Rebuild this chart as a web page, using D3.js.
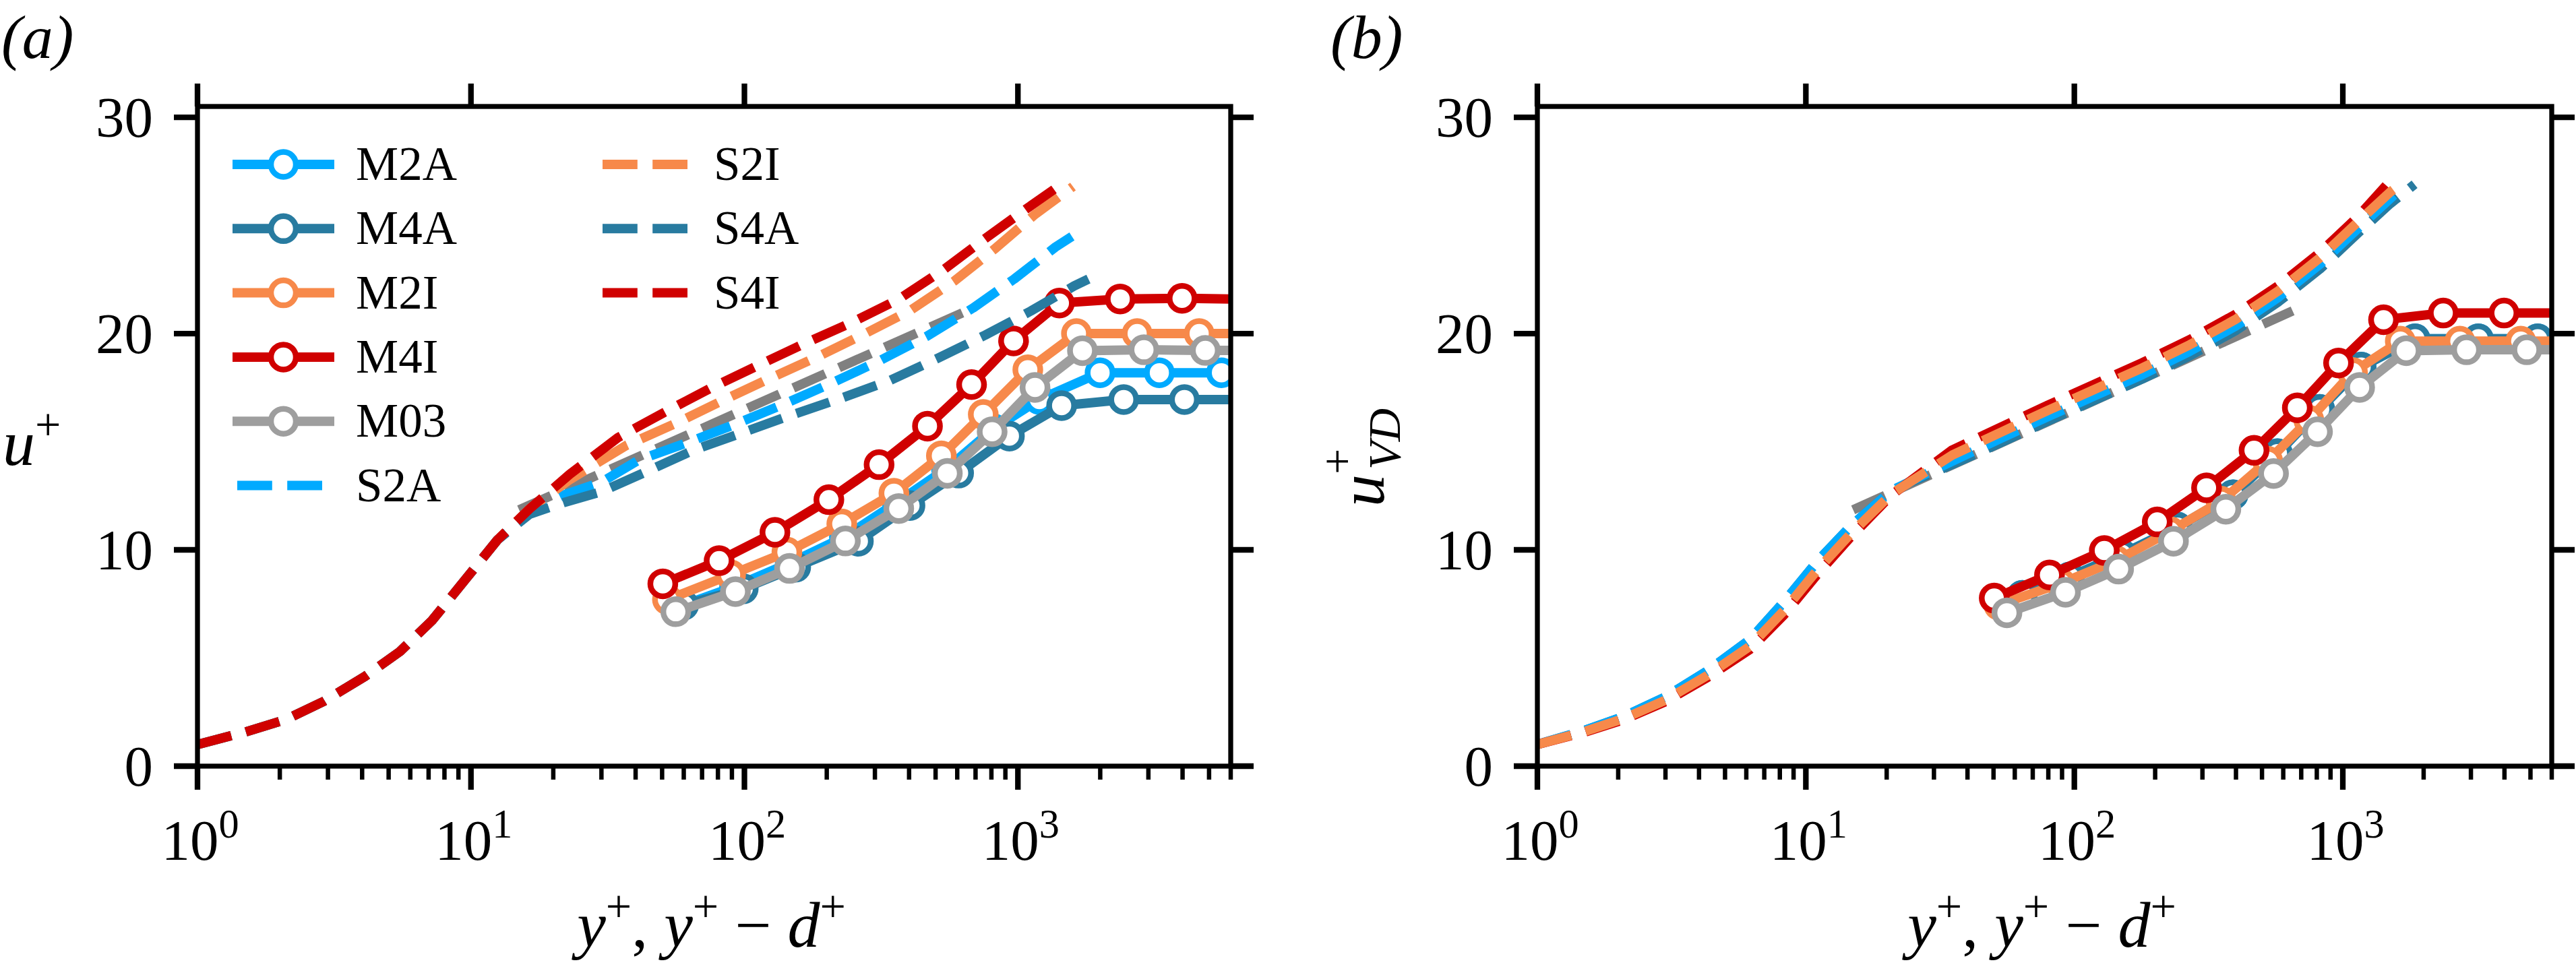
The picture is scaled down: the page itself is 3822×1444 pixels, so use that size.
<!DOCTYPE html>
<html>
<head>
<meta charset="utf-8">
<script src="https://cdn.jsdelivr.net/npm/d3@7"></script>
<style>
  body { margin: 0; background: #fff; }
  svg { display: block; background: #fff; }
  text { font-family: "Liberation Serif", "Times New Roman", serif; fill: #000; white-space: pre; }
</style>
</head>
<body>
<svg id="chart" width="3822" height="1444"></svg>
<script>
// ---------- data ----------
const yTicks = [0, 10, 20, 30];
const xMajor = [1, 10, 100, 1000];
const xMajorExp = ['0', '1', '2', '3'];
const xMinor = [2, 3, 4, 5, 6, 7, 8, 9, 20, 30, 40, 50, 60, 70, 80, 90,
                200, 300, 400, 500, 600, 700, 800, 900, 2000, 3000, 4000, 5000, 6000];

// model profiles (markers), last point = line running to the right edge
const m2aX  = [57, 92, 147, 232, 362, 548, 815, 1198, 1997, 3290, 5550, 6000];
const m2aA  = [7.35, 8.3, 9.4, 10.6, 12.2, 13.75, 15.6, 16.95, 18.19, 18.19, 18.19, 18.19];
const m4aX  = [60, 99, 154, 261, 403, 607, 931, 1445, 2437, 4063, 6000];
const m4aA  = [7.45, 8.2, 9.2, 10.4, 12.05, 13.55, 15.26, 16.67, 16.95, 16.95, 16.95];
const m2iX  = [52.3, 89, 143, 227, 352, 525, 747, 1087, 1637, 2729, 4600, 6000];
const m2iA  = [7.7, 8.85, 9.9, 11.2, 12.62, 14.35, 16.26, 18.33, 20.0, 20.0, 20.0, 20.0];
const m4iX  = [50.3, 80.8, 129.3, 203.6, 310.7, 467, 677, 964, 1418, 2366, 3984, 6000];
const m4iA  = [8.43, 9.5, 10.81, 12.32, 13.94, 15.72, 17.64, 19.66, 21.41, 21.6, 21.63, 21.6];
const m03X  = [56.1, 92.7, 146.2, 234, 366.7, 552, 805, 1155, 1722, 2890, 4845, 6000];
const m03A  = [7.14, 8.07, 9.14, 10.41, 11.91, 13.54, 15.46, 17.51, 19.21, 19.25, 19.22, 19.22];

// panel (b), van Driest transformed
const m2aXb = [64, 96, 150, 242, 390, 571, 820, 1170, 1858, 3198, 5320, 6000];
const m2aB  = [7.9, 8.75, 9.8, 11.05, 12.55, 14.45, 16.5, 18.45, 19.76, 19.76, 19.76, 19.76];
const m4aXb = [64, 96, 150, 242, 390, 571, 820, 1170, 1858, 3198, 5320, 6000];
const m4aB  = [7.9, 8.75, 9.8, 11.05, 12.55, 14.45, 16.5, 18.45, 19.76, 19.76, 19.76, 19.76];
const m2iB  = [7.45, 8.45, 9.5, 10.85, 12.25, 14.1, 16.0, 18.2, 19.65, 19.65, 19.65, 19.65];
const m4iB  = [7.77, 8.84, 9.97, 11.29, 12.87, 14.6, 16.57, 18.64, 20.64, 20.95, 20.95, 20.95];
const m03B  = [7.09, 8.04, 9.11, 10.4, 11.88, 13.53, 15.46, 17.51, 19.21, 19.25, 19.25, 19.25];

// simulation profiles [y+, u+]
const nearWallA = [[1, 1.0], [1.5, 1.58], [2.1, 2.15], [2.9, 3.0], [4.1, 4.15], [5.5, 5.3],
                   [7.2, 6.73], [9.5, 8.6], [12.5, 10.46]];
const s2aA = nearWallA.concat([[16.4, 11.75], [22, 12.55], [30, 13.13], [41, 14.15], [62.2, 14.97],
  [93.5, 15.83], [140.8, 16.76], [210, 17.73], [315, 18.77], [467, 19.89], [685, 21.18],
  [969, 22.52], [1372, 24.0], [1576, 24.49]]);
const s2iA = nearWallA.concat([[16.4, 11.9], [23, 13.25], [37, 14.83], [55.5, 15.82], [82.8, 16.89],
  [123.9, 17.93], [184, 18.91], [274.5, 19.98], [406.5, 21.09], [585.6, 22.43], [820, 23.9],
  [1145, 25.47], [1590, 26.8]]);
const s4aA = nearWallA.concat([[16.4, 11.65], [22, 12.2], [30, 12.69], [43.2, 13.58], [64.9, 14.6],
  [98.5, 15.42], [148.4, 16.23], [226.7, 17.02], [341.8, 17.84], [509.6, 18.86], [760, 19.93],
  [1114, 21.04], [1605, 22.2], [1811, 22.52]]);
const s4iA = nearWallA.concat([[16.4, 11.9], [23, 13.5], [34.5, 15.19], [50.5, 16.33], [75.3, 17.48],
  [112.3, 18.53], [164.7, 19.52], [245.5, 20.5], [366, 21.58], [537, 22.97], [760, 24.4],
  [1069, 25.75], [1460, 26.95]]);

const nearWallB  = [[1, 1.0], [1.5, 1.6], [2.1, 2.2], [3.0, 3.05], [4.3, 4.2], [6.2, 5.55],
                    [8.3, 7.2], [11, 9.05], [14.7, 10.75], [20.9, 12.6]];
const nearWallBa = [[1, 1.0], [1.5, 1.65], [2.1, 2.3], [3.0, 3.2], [4.3, 4.4], [6.2, 5.85],
                    [8.3, 7.6], [11, 9.45], [14.7, 11.1], [20.9, 12.75]];
const nearWallBr = [[1, 1.0], [1.5, 1.57], [2.1, 2.15], [3.0, 2.98], [4.3, 4.1], [6.2, 5.4],
                    [8.3, 7.0], [11, 8.85], [14.7, 10.6], [20.9, 12.55]];
const s2aB = nearWallBa.concat([[35.1, 14.1], [53.8, 15.18], [79.4, 16.15], [119, 17.12], [179, 18.1],
  [269, 19.18], [397, 20.33], [576, 21.68], [821, 23.2], [1129, 24.82], [1550, 26.4]]);
const s4aB = nearWallBa.concat([[35.1, 13.95], [53.8, 14.98], [79.4, 15.95], [119, 16.92], [179, 17.9],
  [269, 18.97], [397, 20.12], [576, 21.47], [821, 22.98], [1129, 24.6], [1500, 26.0], [1850, 26.9]]);
const s2iB = nearWallB.concat([[35.1, 14.38], [53.8, 15.46], [79.4, 16.44], [119, 17.42], [179, 18.41],
  [269, 19.48], [397, 20.64], [576, 21.98], [821, 23.5], [1129, 25.12], [1500, 26.54], [1600, 26.8]]);
const s4iB = nearWallBr.concat([[35.1, 14.62], [53.8, 15.7], [79.4, 16.68], [119, 17.66], [179, 18.65],
  [269, 19.72], [397, 20.88], [576, 22.22], [821, 23.74], [1129, 25.36], [1450, 26.85]]);

// log law reference (grey dashed)
const logLaw = [[15, 11.85], [650, 21.05]];

const legendNames  = ['M2A', 'M4A', 'M2I', 'M4I', 'M03', 'S2A', 'S2I', 'S4A', 'S4I'];
const legendDashed = [false, false, false, false, false, true, true, true, true];

// ---------- styling ----------
const FONT = '"Liberation Serif", "Times New Roman", serif';
const cLight = '#00aaff', cTeal = '#287ba0', cOrange = '#f7894a', cRed = '#d00000',
      cGray = '#9e9e9e', cLog = '#808080';
const legendColors = [cLight, cTeal, cOrange, cRed, cGray, cLight, cOrange, cTeal, cRed];

const TOP = 158, BOTTOM = 1137;
const LW = 14, DASH = '51.8,22.4', MR = 18.5, MSW = 8.5;
const TICK_FS = 85, LABEL_FS = 96, LEG_FS = 71;

const svg = d3.select('#chart').style('font-family', FONT);

function zipXY(xs, us) { return xs.map((v, i) => [v, us[i]]); }

function addMath(textSel, parts, size) {
  let shift = 0;
  parts.forEach(p => {
    const target = p.sup ? -0.39 * size : 0;
    const ts = textSel.append('tspan').text(p.t)
      .attr('font-size', p.sup ? size * 0.71 : size)
      .attr('font-style', p.it ? 'italic' : 'normal');
    if (target !== shift) { ts.attr('dy', target - shift); shift = target; }
  });
}

function drawPanel(id, left, right, models, sims) {
  const x = d3.scaleLog().domain([1, 6000]).range([left, right]);
  const y = d3.scaleLinear().domain([0, 30.5]).range([BOTTOM, TOP]);
  const g = svg.append('g');

  g.append('clipPath').attr('id', 'clip-' + id)
    .append('rect').attr('x', left).attr('y', TOP)
    .attr('width', right - left).attr('height', BOTTOM - TOP);

  const plot = g.append('g').attr('clip-path', `url(#clip-${id})`);
  const line = d3.line().x(d => x(d[0])).y(d => y(d[1]));

  // grey log-law reference first
  plot.append('path').datum(logLaw)
    .attr('d', line).attr('fill', 'none').attr('stroke', cLog)
    .attr('stroke-width', LW).attr('stroke-dasharray', DASH);

  models.forEach(s => {
    const pts = zipXY(s.x, s.u);
    plot.append('path').datum(pts)
      .attr('d', line).attr('fill', 'none').attr('stroke', s.c)
      .attr('stroke-width', LW).attr('stroke-linejoin', 'round')
      .attr('stroke-linecap', 'square');
    plot.selectAll(null).data(pts.slice(0, -1)).enter().append('circle')
      .attr('cx', d => x(d[0])).attr('cy', d => y(d[1])).attr('r', MR)
      .attr('fill', '#fff').attr('stroke', s.c).attr('stroke-width', MSW);
  });

  sims.forEach(s => {
    plot.append('path').datum(s.d)
      .attr('d', line).attr('fill', 'none').attr('stroke', s.c)
      .attr('stroke-width', LW).attr('stroke-linejoin', 'round')
      .attr('stroke-dasharray', DASH);
  });

  // frame
  g.append('rect').attr('x', left).attr('y', TOP)
    .attr('width', right - left).attr('height', BOTTOM - TOP)
    .attr('fill', 'none').attr('stroke', '#000').attr('stroke-width', 7.3);

  const tickStyle = (sel, w) => {
    sel.select('.domain').remove();
    sel.selectAll('line').attr('stroke', '#000').attr('stroke-width', w);
    sel.selectAll('text').remove();
  };

  g.append('g').attr('transform', `translate(0,${BOTTOM})`)
    .call(d3.axisBottom(x).tickValues(xMajor).tickSize(35).offset(0))
    .call(tickStyle, 8.3);
  g.append('g').attr('transform', `translate(0,${BOTTOM})`)
    .call(d3.axisBottom(x).tickValues(xMinor).tickSize(20).offset(0))
    .call(tickStyle, 6.5);
  g.append('g').attr('transform', `translate(0,${TOP})`)
    .call(d3.axisTop(x).tickValues(xMajor).tickSize(34).offset(0))
    .call(tickStyle, 8.3);
  g.append('g').attr('transform', `translate(${left},0)`)
    .call(d3.axisLeft(y).tickValues(yTicks).tickSize(35).offset(0))
    .call(tickStyle, 8.3);
  g.append('g').attr('transform', `translate(${right},0)`)
    .call(d3.axisRight(y).tickValues(yTicks).tickSize(34).offset(0))
    .call(tickStyle, 8.3);

  // tick labels
  xMajor.forEach((v, i) => {
    const t = g.append('text').attr('x', x(v) + 4).attr('y', 1276)
      .attr('text-anchor', 'middle').style('font-family', FONT);
    addMath(t, [{ t: '10' }, { t: xMajorExp[i], sup: true }], TICK_FS);
  });
  yTicks.forEach(v => {
    g.append('text').attr('x', left - 66).attr('y', y(v) + 29)
      .attr('text-anchor', 'end').attr('font-size', TICK_FS)
      .style('font-family', FONT).text(v);
  });

  // x label
  const xl = g.append('text').attr('x', (left + right) / 2 - 4).attr('y', 1405)
    .attr('text-anchor', 'middle').style('font-family', FONT);
  addMath(xl, [{ t: 'y', it: true }, { t: '+', sup: true }, { t: ', ' },
               { t: 'y', it: true }, { t: '+', sup: true }, { t: ' \u2212 ' },
               { t: 'd', it: true }, { t: '+', sup: true }], LABEL_FS);
  return g;
}

// ---------- panel (a) ----------
const gA = drawPanel('a', 293, 1826,
  [{ x: m2aX, u: m2aA, c: cLight }, { x: m4aX, u: m4aA, c: cTeal },
   { x: m2iX, u: m2iA, c: cOrange }, { x: m4iX, u: m4iA, c: cRed },
   { x: m03X, u: m03A, c: cGray }],
  [{ d: s2aA, c: cLight }, { d: s2iA, c: cOrange }, { d: s4aA, c: cTeal }, { d: s4iA, c: cRed }]);

const ylA = gA.append('text').attr('x', 4).attr('y', 690).style('font-family', FONT);
addMath(ylA, [{ t: 'u', it: true }, { t: '+', sup: true }], LABEL_FS);

gA.append('text').attr('x', 2).attr('y', 86).attr('font-size', 92)
  .style('font-family', FONT).attr('font-style', 'italic').text('(a)');

// legend
const leg = gA.append('g');
legendNames.forEach((name, i) => {
  const col = i < 6 ? 0 : 1;
  const row = i < 6 ? i : i - 6;
  const x0 = col === 0 ? 352 : 894;
  const x1 = x0 + 137;
  const tx = col === 0 ? 528 : 1059;
  const yy = 244 + row * 95.3;
  const ln = leg.append('line').attr('x1', x0).attr('x2', x1).attr('y1', yy).attr('y2', yy)
    .attr('stroke', legendColors[i]).attr('stroke-width', LW);
  if (legendDashed[i]) {
    ln.attr('stroke-dasharray', DASH);
  } else {
    ln.attr('stroke-linecap', 'square');
    leg.append('circle').attr('cx', (x0 + x1) / 2).attr('cy', yy).attr('r', MR)
      .attr('fill', '#fff').attr('stroke', legendColors[i]).attr('stroke-width', MSW);
  }
  leg.append('text').attr('x', tx).attr('y', yy + 23).attr('font-size', LEG_FS)
    .style('font-family', FONT).text(name);
});

// ---------- panel (b) ----------
const gB = drawPanel('b', 2281, 3786,
  [{ x: m2aXb, u: m2aB, c: cLight }, { x: m4aXb, u: m4aB, c: cTeal },
   { x: m2iX, u: m2iB, c: cOrange }, { x: m4iX, u: m4iB, c: cRed },
   { x: m03X, u: m03B, c: cGray }],
  [{ d: s4aB, c: cTeal }, { d: s2aB, c: cLight }, { d: s4iB, c: cRed }, { d: s2iB, c: cOrange }]);

const ylB = gB.append('g').attr('transform', 'translate(2053,752) rotate(-90)')
  .style('font-family', FONT);
ylB.append('text').attr('x', 0).attr('y', 0).attr('font-size', LABEL_FS)
  .style('font-family', FONT).attr('font-style', 'italic').text('u');
ylB.append('text').attr('x', 48).attr('y', -46).attr('font-size', LABEL_FS * 0.71)
  .style('font-family', FONT).text('+');
ylB.append('text').attr('x', 55).attr('y', 24).attr('font-size', LABEL_FS * 0.71)
  .style('font-family', FONT).attr('font-style', 'italic').text('VD');

gB.append('text').attr('x', 1974).attr('y', 86).attr('font-size', 92)
  .style('font-family', FONT).attr('font-style', 'italic').text('(b)');
</script>
</body>
</html>
